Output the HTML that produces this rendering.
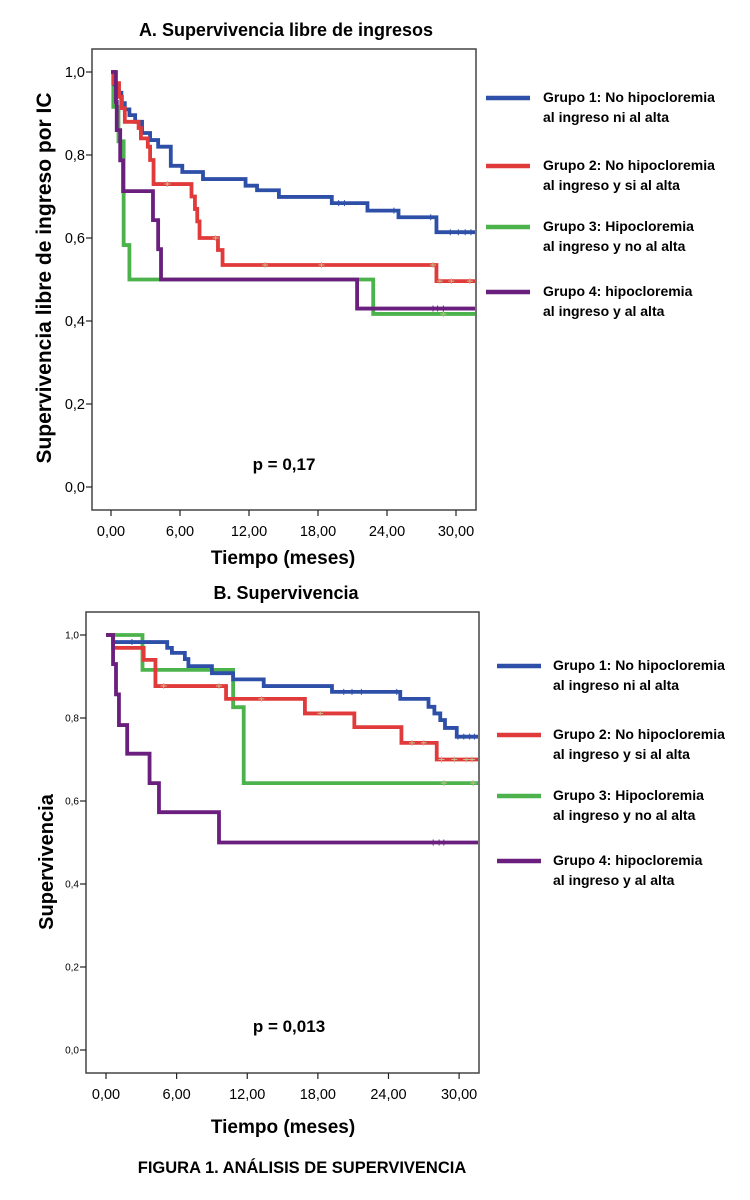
<!DOCTYPE html>
<html><head><meta charset="utf-8"><style>
html,body{margin:0;padding:0;background:#fff;}
svg{display:block;font-family:"Liberation Sans",Arial,sans-serif;}
</style></head><body>
<svg id="fig" width="750" height="1200" viewBox="0 0 750 1200" xmlns="http://www.w3.org/2000/svg">
<text x="286" y="36" text-anchor="middle" font-size="18" font-weight="bold">A. Supervivencia libre de ingresos</text>
<text transform="translate(51,278) rotate(-90)" text-anchor="middle" font-size="21" font-weight="bold">Supervivencia libre de ingreso por IC</text>
<text x="283" y="564" text-anchor="middle" font-size="19" font-weight="bold">Tiempo (meses)</text>
<text x="284" y="470" text-anchor="middle" font-size="17" font-weight="bold">p = 0,17</text>
<text x="286" y="599" text-anchor="middle" font-size="18" font-weight="bold">B. Supervivencia</text>
<text transform="translate(53,862) rotate(-90)" text-anchor="middle" font-size="20" font-weight="bold">Supervivencia</text>
<text x="283" y="1133" text-anchor="middle" font-size="19" font-weight="bold">Tiempo (meses)</text>
<text x="289" y="1032" text-anchor="middle" font-size="17" font-weight="bold">p = 0,013</text>
<text x="302" y="1173" text-anchor="middle" font-size="16.5" font-weight="bold">FIGURA 1. ANÁLISIS DE SUPERVIVENCIA</text>
</svg>
<script>
// Shared axis ticks
const xTicks = [0, 6, 12, 18, 24, 30];
const xTickLabels = ["0,00", "6,00", "12,00", "18,00", "24,00", "30,00"];
const yTicks = [0, 0.2, 0.4, 0.6, 0.8, 1.0];
const yTickLabels = ["0,0", "0,2", "0,4", "0,6", "0,8", "1,0"];
const groupNames = ["Grupo 1: No hipocloremia|al ingreso ni al alta","Grupo 2: No hipocloremia|al ingreso y si al alta","Grupo 3: Hipocloremia|al ingreso y no al alta","Grupo 4: hipocloremia|al ingreso y al alta"];

// Panel A step data (time in months, survival)
const aG1Times = [0,0.3,0.6,0.9,1.2,1.6,2.1,2.7,3.4,4.1,5.2,6.2,8.0,11.7,12.7,14.6,19.2,22.3,25.0,28.3];
const aG1Surv  = [1,0.97,0.95,0.925,0.91,0.896,0.88,0.853,0.836,0.82,0.774,0.759,0.742,0.726,0.715,0.699,0.684,0.666,0.65,0.614];
const aG1Cens  = [19.8,20.3,24.6,27.8,29.5,30.2,30.8,31.3];
const aG2Times = [0,0.2,0.7,0.95,1.2,2.4,2.6,3.2,3.4,3.7,7.0,7.3,7.5,7.7,9.3,9.7,28.3];
const aG2Surv  = [1,0.973,0.94,0.913,0.88,0.865,0.84,0.82,0.788,0.73,0.70,0.67,0.64,0.60,0.571,0.535,0.496];
const aG2Cens  = [4.9,9.1,13.4,18.3,28.0,28.6,29.6,31.2];
const aG3Times = [0,0.2,0.65,1.1,1.6,22.8];
const aG3Surv  = [1,0.916,0.833,0.583,0.5,0.417];
const aG3Cens  = [28.9];
const aG4Times = [0,0.43,0.5,0.8,1.05,3.65,4.1,4.35,21.4];
const aG4Surv  = [1,0.928,0.86,0.787,0.713,0.643,0.573,0.5,0.43];
const aG4Cens  = [28.0,28.4,28.9];

// Panel B step data
const bG1Times = [0,0.6,5.2,5.6,6.7,7.0,9.0,10.8,13.4,19.2,25.0,27.4,27.9,28.4,28.8,29.8];
const bG1Surv  = [1,0.983,0.969,0.957,0.942,0.925,0.908,0.893,0.877,0.863,0.846,0.827,0.811,0.795,0.776,0.755];
const bG1Cens  = [2.2,20.2,20.9,21.7,24.7,29.9,30.4,30.9,31.3];
const bG2Times = [0,0.6,3.2,4.2,10.2,16.9,21.1,25.1,28.1];
const bG2Surv  = [1,0.969,0.94,0.877,0.846,0.811,0.778,0.74,0.70];
const bG2Cens  = [4.9,9.6,13.2,18.2,26.0,27.0,28.5,29.6,30.6,31.1];
const bG3Times = [0,3.1,10.8,11.7];
const bG3Surv  = [1,0.916,0.826,0.643];
const bG3Cens  = [28.7,31.2];
const bG4Times = [0,0.6,0.85,1.1,1.8,3.7,4.5,9.6];
const bG4Surv  = [1,0.93,0.857,0.783,0.714,0.643,0.573,0.50];
const bG4Cens  = [27.8,28.3,28.7];

const colors = ["#2e4fa8","#e03a3a","#4cb34c","#6a1f7e"];
const NS = "http://www.w3.org/2000/svg";
const svg = document.getElementById('fig');

function el(tag, attrs, parent){
  const e = document.createElementNS(NS, tag);
  for (const k in attrs) e.setAttribute(k, attrs[k]);
  (parent||svg).appendChild(e);
  return e;
}

function drawPanel(cfg, series, prefix){
  const xs = t => cfg.x0 + t * cfg.pxPerMonth;
  const ys = v => cfg.y0 - v * cfg.pxPerUnit;
  const g = el('g', {});
  
  
  const frame = el('rect', {x:cfg.left, y:cfg.top, width:cfg.right-cfg.left, height:cfg.bottom-cfg.top, fill:'none', stroke:'#444', 'stroke-width':1.5}, g);
  
  
  xTicks.forEach((t,i)=>{
    const tk = el('line', {x1:xs(t), x2:xs(t), y1:cfg.bottom, y2:cfg.bottom+6, stroke:'#222','stroke-width':1.2}, g);
    
    
    const lb = el('text', {x:xs(t), y:cfg.bottom+26, 'text-anchor':'middle', 'font-size':14.5}, g);
    lb.textContent = xTickLabels[i];
    
    
  });
  yTicks.forEach((v,i)=>{
    const tk = el('line', {x1:cfg.left-6, x2:cfg.left, y1:ys(v), y2:ys(v), stroke:'#222','stroke-width':1.2}, g);
    
    
    const lb = el('text', {x:cfg.left-7, y:ys(v)+cfg.yFont*0.36, 'text-anchor':'end', 'font-size':cfg.yFont}, g);
    lb.textContent = yTickLabels[i];
    
    
  });
  const order = [2,0,1,3];
  order.forEach(si=>{
    const s = series[si];
    let d = 'M' + xs(s.t[0]) + ',' + ys(s.v[0]);
    for (let i=1;i<s.t.length;i++){ d += ' H' + xs(s.t[i]) + ' V' + ys(s.v[i]); }
    d += ' H' + (cfg.right - 1);
    const p = el('path', {d:d, fill:'none', stroke:colors[si], 'stroke-width':3.8, 'stroke-linejoin':'miter'}, g);
    
    
    s.c.forEach(ct=>{
      let v = s.v[0];
      for (let i=0;i<s.t.length;i++){ if (s.t[i] <= ct) v = s.v[i]; }
      const m = el('path', {d:'M'+(xs(ct)-3)+','+ys(v)+' h6 M'+xs(ct)+','+(ys(v)-3)+' v6', stroke:si===0||si===3?colors[si]:'#c8b98a','stroke-width':1}, g);
      
      
    });
  });
  // legend
  groupNames.forEach((n,i)=>{
    const ly = cfg.legY[i];
    const ln = el('line', {x1:cfg.legX, x2:cfg.legX+44, y1:ly, y2:ly, stroke:colors[i], 'stroke-width':4.5});
    
    
    const parts = n.split('|');
    const tx = el('text', {x:cfg.legTextX, y:ly+4, 'font-size':14, 'font-weight':'bold'});
    
    
    const t1 = el('tspan', {x:cfg.legTextX, dy:0}, tx); t1.textContent = parts[0];
    const t2 = el('tspan', {x:cfg.legTextX, dy:20}, tx); t2.textContent = parts[1];
  });
}

drawPanel({left:92, right:476, top:49, bottom:510, x0:111, pxPerMonth:11.5, y0:487, pxPerUnit:415, yFont:14.5,
  legX:486, legTextX:543, legY:[98,166,227,292]},
  [{t:aG1Times,v:aG1Surv,c:aG1Cens},{t:aG2Times,v:aG2Surv,c:aG2Cens},{t:aG3Times,v:aG3Surv,c:aG3Cens},{t:aG4Times,v:aG4Surv,c:aG4Cens}], 'panel-a');
drawPanel({left:86, right:479, top:612, bottom:1073, x0:106, pxPerMonth:11.77, y0:1050, pxPerUnit:415, yFont:10,
  legX:497, legTextX:553, legY:[666,735,796,861]},
  [{t:bG1Times,v:bG1Surv,c:bG1Cens},{t:bG2Times,v:bG2Surv,c:bG2Cens},{t:bG3Times,v:bG3Surv,c:bG3Cens},{t:bG4Times,v:bG4Surv,c:bG4Cens}], 'panel-b');
</script>
</body></html>
